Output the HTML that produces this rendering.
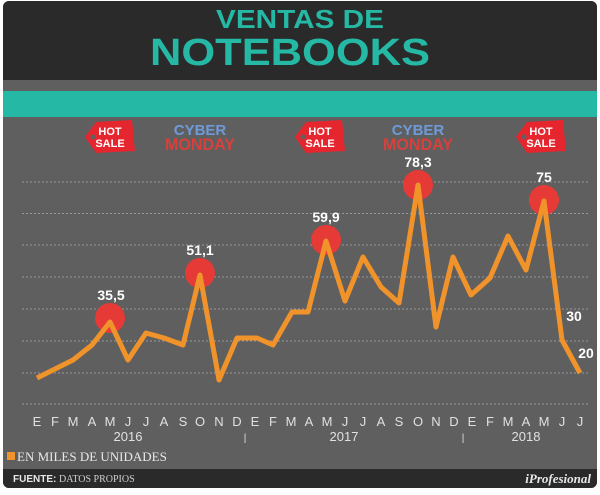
<!DOCTYPE html>
<html><head><meta charset="utf-8"><style>
body{margin:0;background:#fff;width:600px;height:490px;overflow:hidden}
</style></head><body>
<svg width="600" height="490" xmlns="http://www.w3.org/2000/svg" font-family="Liberation Sans, sans-serif">
<defs><clipPath id="c"><rect x="3" y="1" width="594" height="487" rx="6"/></clipPath></defs>
<g clip-path="url(#c)">
<rect x="0" y="0" width="600" height="490" fill="#5f5f5f"/>
<rect x="0" y="0" width="600" height="80" fill="#2a2a2a"/>
<rect x="0" y="91" width="600" height="26" fill="#25b8a4"/>
<rect x="0" y="469" width="600" height="21" fill="#2a2a2a"/>
</g>
<text x="300" y="28" text-anchor="middle" font-size="26" font-weight="bold" fill="#25b8a4" textLength="168" lengthAdjust="spacingAndGlyphs">VENTAS DE</text>
<text x="290" y="65" text-anchor="middle" font-size="38" font-weight="bold" fill="#25b8a4" textLength="280" lengthAdjust="spacingAndGlyphs">NOTEBOOKS</text>
<g stroke="#9a9a9a" stroke-dasharray="2,2" stroke-width="1">
<line x1="22" x2="590" y1="182" y2="182"/><line x1="22" x2="590" y1="213.5" y2="213.5"/>
<line x1="22" x2="590" y1="245" y2="245"/><line x1="22" x2="590" y1="277" y2="277"/>
<line x1="22" x2="590" y1="309" y2="309"/><line x1="22" x2="590" y1="341" y2="341"/>
<line x1="22" x2="590" y1="373" y2="373"/><line x1="22" x2="590" y1="404" y2="404"/>
</g>
<g font-weight="bold" font-size="11" text-anchor="middle">
<g transform="translate(110,137)"><path d="M-25,0 L-14,-15 L22,-17 L25,14 L-14,16 Z" fill="#e5262f"/><circle cx="-17" cy="0" r="2.5" fill="#5f5f5f"/><text y="-2" fill="#fff">HOT</text><text y="10" fill="#fff">SALE</text></g>
<g transform="translate(320,137)"><path d="M-25,0 L-14,-15 L22,-17 L25,14 L-14,16 Z" fill="#e5262f"/><circle cx="-17" cy="0" r="2.5" fill="#5f5f5f"/><text y="-2" fill="#fff">HOT</text><text y="10" fill="#fff">SALE</text></g>
<g transform="translate(541,137)"><path d="M-25,0 L-14,-15 L22,-17 L25,14 L-14,16 Z" fill="#e5262f"/><circle cx="-17" cy="0" r="2.5" fill="#5f5f5f"/><text y="-2" fill="#fff">HOT</text><text y="10" fill="#fff">SALE</text></g>
<g transform="translate(200,137)"><text y="-2" font-size="15" fill="#6f9ad8">CYBER</text><text y="13" font-size="17" fill="#d9403c" textLength="70" lengthAdjust="spacingAndGlyphs">MONDAY</text></g>
<g transform="translate(418,137)"><text y="-2" font-size="15" fill="#6f9ad8">CYBER</text><text y="13" font-size="17" fill="#d9403c" textLength="70" lengthAdjust="spacingAndGlyphs">MONDAY</text></g>
</g>
<g fill="#e63a36">
<circle cx="110" cy="318" r="15"/><circle cx="200" cy="273" r="15"/><circle cx="326" cy="240" r="15"/><circle cx="418" cy="185" r="15"/><circle cx="544" cy="200" r="15"/>
</g>
<polyline fill="none" stroke="#f0932a" stroke-width="5" stroke-linejoin="round" points="37,378 55,369 73,360 92,345 110,322 128,360 146,333 164,338 183,345 200,275 219,380 237,338 257,338 273,345 292,312 308,312 326,241 345,301 363,257 381,287 399,303 418,185 436,327 453,257 471,295 490,278 508,236 526,270 544,201 562,340 580,373"/>
<g fill="#fff" font-weight="bold" font-size="14" text-anchor="middle">
<text x="111" y="300">35,5</text><text x="200" y="255">51,1</text><text x="326" y="222">59,9</text><text x="418" y="167">78,3</text><text x="544" y="182">75</text>
<text x="574" y="321">30</text><text x="586" y="358">20</text>
</g>
<g fill="#e0e0e0" font-size="13" text-anchor="middle">
<text x="37" y="426">E</text><text x="55" y="426">F</text><text x="73" y="426">M</text><text x="92" y="426">A</text><text x="110" y="426">M</text><text x="128" y="426">J</text><text x="146" y="426">J</text><text x="164" y="426">A</text><text x="183" y="426">S</text><text x="200" y="426">O</text><text x="219" y="426">N</text><text x="237" y="426">D</text>
<text x="255" y="426">E</text><text x="273" y="426">F</text><text x="291" y="426">M</text><text x="309" y="426">A</text><text x="327" y="426">M</text><text x="345" y="426">J</text><text x="363" y="426">J</text><text x="381" y="426">A</text><text x="399" y="426">S</text><text x="418" y="426">O</text><text x="436" y="426">N</text><text x="454" y="426">D</text>
<text x="472" y="426">E</text><text x="490" y="426">F</text><text x="508" y="426">M</text><text x="526" y="426">A</text><text x="544" y="426">M</text><text x="562" y="426">J</text><text x="580" y="426">J</text>
<text x="128" y="441">2016</text><text x="344" y="441">2017</text><text x="526" y="441">2018</text>
<text x="245" y="441" font-size="10">|</text><text x="463" y="441" font-size="10">|</text>
</g>
<rect x="7" y="452" width="8" height="8" fill="#f0932a"/>
<text x="17" y="461" font-family="Liberation Serif, serif" font-size="13" fill="#e8e8e8">EN MILES DE UNIDADES</text>
<text x="13" y="482" font-size="10" font-weight="bold" fill="#e8e8e8">FUENTE:</text>
<text x="59" y="482" font-family="Liberation Serif, serif" font-size="10" fill="#d0d0d0">DATOS PROPIOS</text>
<text x="591" y="483" text-anchor="end" font-family="Liberation Serif, serif" font-style="italic" font-weight="bold" font-size="13" fill="#e8e8e8">iProfesional</text>
</svg>
</body></html>
